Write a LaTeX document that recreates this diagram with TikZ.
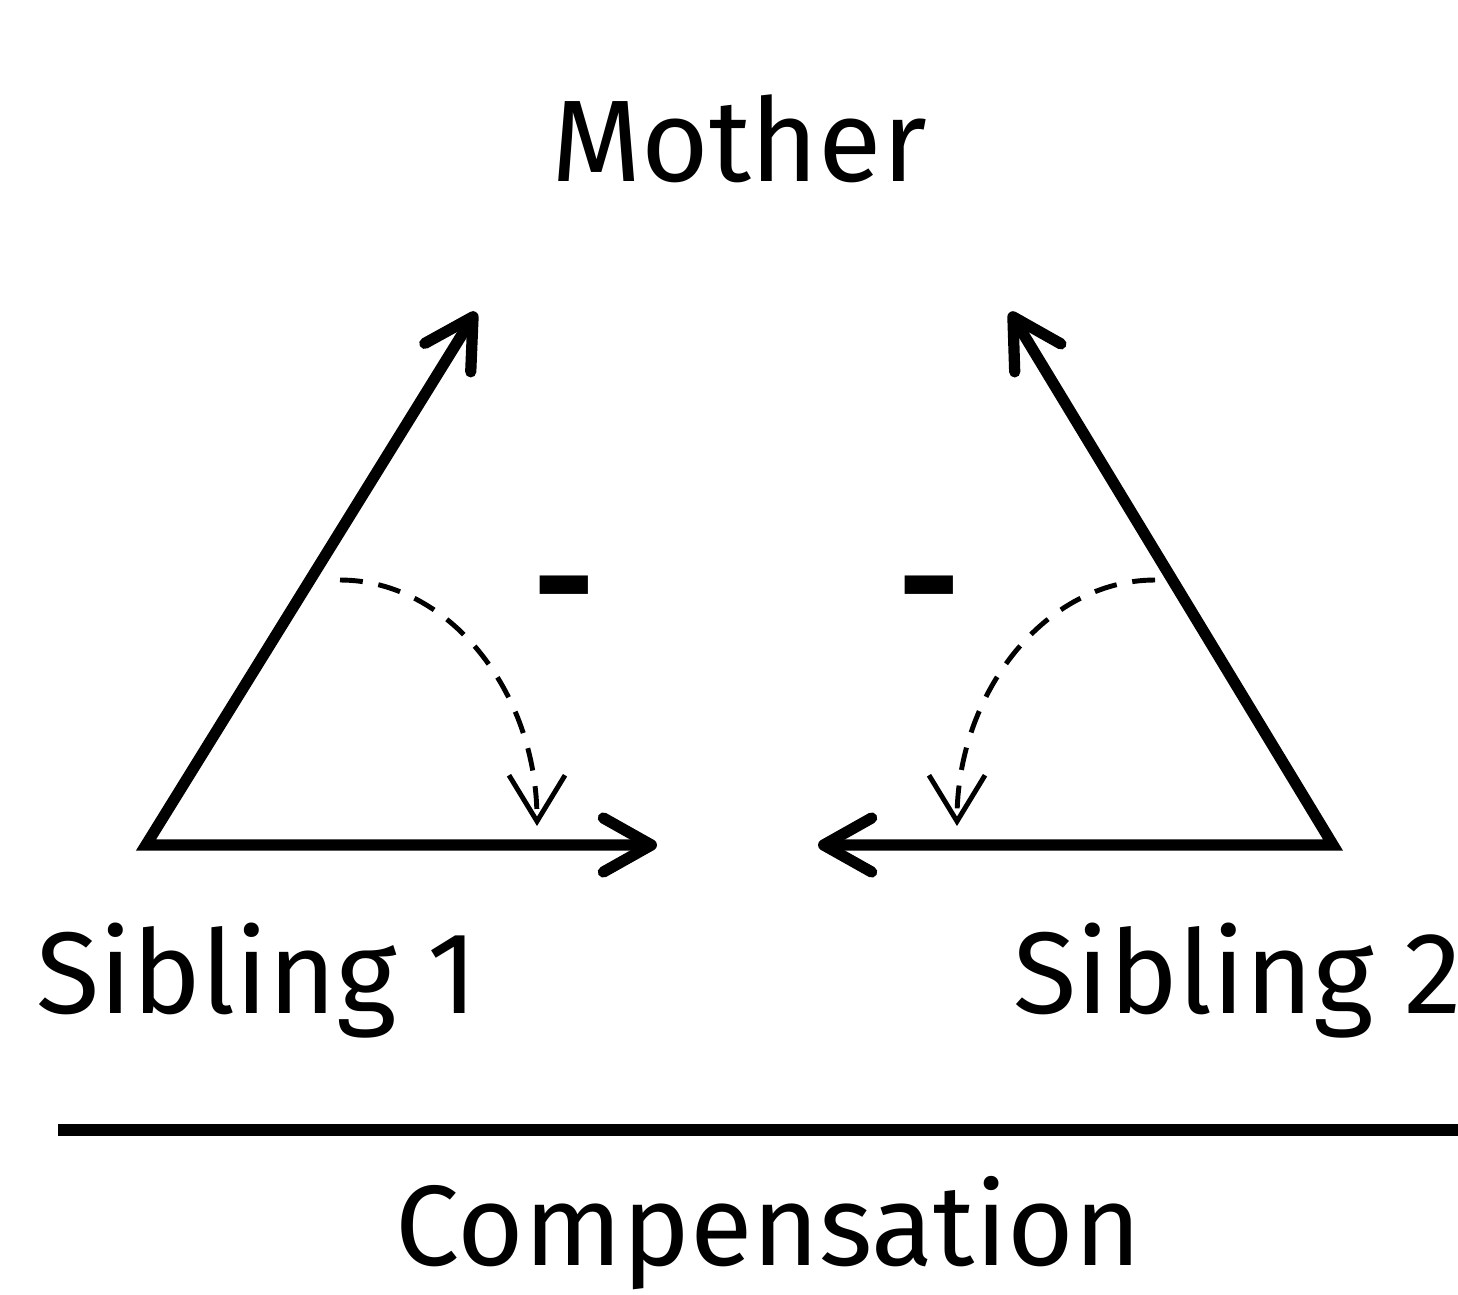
\documentclass[tikz,border=0pt]{standalone}
\usepackage{fontspec}
\setmainfont{Fira Sans}
\usetikzlibrary{arrows.meta, positioning}

\begin{document}
\begin{tikzpicture}[
			x=0.01cm, y=-0.01cm,
			nodes = {
				inner sep=0pt,
				font=\fontsize{33}{40}\selectfont
			},
			word/.style={
				anchor=base west
			},
			sign/.style={
				anchor=center,
				font=\fontsize{43}{43}\selectfont\bfseries
			},
			force/.style={
				line width=3.2pt,
				line join=miter,
				{Straight Barb[length=4.8mm,width=5.4mm,round]}-{Straight Barb[length=4.8mm,width=5.4mm,round]}
			},
			effect/.style={
				line width=1.4pt,
				dash pattern=on 6.5pt off 4.5pt,
				-{Straight Barb[length=4.6mm,width=5.6mm]}
			}
		]
			\useasboundingbox (0,0) rectangle (1458,1294);

			\node (mother) [anchor=base] at (739,182) {Mother};

			% corners of the two triangles
			\coordinate (s1) at (146,845);
			\coordinate (s2) at (1333,845);
			\coordinate (up1) at (476,312);
			\coordinate (up2) at (1010,312);
			\coordinate (in1) at (657,845);
			\coordinate (in2) at (818,845);

			\draw[force] (up1) -- (s1) -- (in1);
			\draw[force] (up2) -- (s2) -- (in2);

			% dashed turns
			\coordinate (from1) at (340,580);
			\coordinate (to1) at (537,826);
			\coordinate (from2) at (1155,580);
			\coordinate (to2) at (957,826);

			\draw[effect] (from1) .. controls (449,580) and (537,692) .. (to1);
			\draw[effect] (from2) .. controls (1046,580) and (957,692) .. (to2);

			\node (minus1) [sign] at (564,604) {-};
			\node (minus2) [sign] at (929,604) {-};

			\node (sib1) [word] at (36,1013) {Sibling 1};
			\node (sib2) [word] at (1013,1013) {Sibling 2};

			\draw[line width=3.4pt] (58,1130) -- (1470,1130);

			\node (comp) [word] at (395,1265) {\fontsize{32.5}{40}\selectfont Compensation};
		\end{tikzpicture}
\end{document}
